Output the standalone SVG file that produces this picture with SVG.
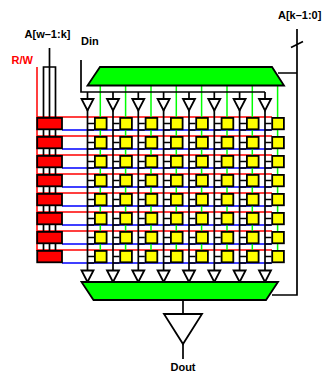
<svg xmlns="http://www.w3.org/2000/svg" xmlns:xlink="http://www.w3.org/1999/xlink" width="324" height="374" viewBox="0 0 324 374">
<style>
text{font-family:"Liberation Sans",Arial,sans-serif;font-weight:bold;font-size:11px;fill:#000}
.w{fill:none;stroke:#000;stroke-width:1.7}
.r{fill:none;stroke:#f00;stroke-width:1.5}
.b{fill:none;stroke:#00f;stroke-width:1.5}
.g{fill:none;stroke:#0f0;stroke-width:1.5}
.tri{fill:#fff;stroke:#000;stroke-width:1.8}
.mux{fill:#0f0;stroke:#000;stroke-width:1.8}
.red{fill:#f00;stroke:#000;stroke-width:1.8}
.cell{fill:#ff0;stroke:#000;stroke-width:1.8}
</style>
<defs>
<rect id="c" class="cell" x="0.9" y="0.9" width="11.7" height="11.4"/>
<rect id="d" class="red" x="37.2" y="0.9" width="24.8" height="11.4"/>
<polygon id="t" class="tri" points="-6,0 6,0 0,11.5"/>
<path id="s" class="w" d="M0 6.5H6.5M0 13H6.5"/>
</defs>
<g id="connectors">
<g id="word-lines">
<path class="r" d="M37 67V251M37 117H272M37 136H272M37 155H272M37 174H272M37 193H272M37 212H272M37 231H272M37 250H272"/>
<path class="b" d="M62 130H272M62 149H272M62 168H272M62 187H272M62 206H272M62 225H272M62 244H272M62 263H272"/>
</g>
<path id="green-lines" class="g" d="M100.3 85V251M125.6 85V251M151 85V251M176.3 85V251M201.6 85V251M227 85V251M252.3 85V251M277.6 85V251"/>
<path id="addr-high" class="w" d="M49.5 48V67M43.5 117V67H55.5V117M43.5 130V250M49.5 67V250M55.5 130V250"/>
<path id="din" class="w" d="M81 60V92H265M87.5 92V99M113 92V99M138.3 92V99M163.6 92V99M189 92V99M214.3 92V99M239.6 92V99M265 92V99"/>
<path id="bit-lines" class="w" d="M87.5 110V271M113 110V271M138.3 110V271M163.6 110V271M189 110V271M214.3 110V271M239.6 110V271M265 110V271"/>
<path id="addr-low" class="w" d="M297 29V295H272M278 73H297M291 47.5L303 41.5"/>
<path id="dout" class="w" d="M183 300V314M183 344V359"/>
</g>
<g id="stubs">
<use href="#s" x="87.5" y="117"/><use href="#s" x="113" y="117"/><use href="#s" x="138.3" y="117"/><use href="#s" x="163.6" y="117"/><use href="#s" x="189" y="117"/><use href="#s" x="214.3" y="117"/><use href="#s" x="239.6" y="117"/><use href="#s" x="265" y="117"/>
<use href="#s" x="87.5" y="136"/><use href="#s" x="113" y="136"/><use href="#s" x="138.3" y="136"/><use href="#s" x="163.6" y="136"/><use href="#s" x="189" y="136"/><use href="#s" x="214.3" y="136"/><use href="#s" x="239.6" y="136"/><use href="#s" x="265" y="136"/>
<use href="#s" x="87.5" y="155"/><use href="#s" x="113" y="155"/><use href="#s" x="138.3" y="155"/><use href="#s" x="163.6" y="155"/><use href="#s" x="189" y="155"/><use href="#s" x="214.3" y="155"/><use href="#s" x="239.6" y="155"/><use href="#s" x="265" y="155"/>
<use href="#s" x="87.5" y="174"/><use href="#s" x="113" y="174"/><use href="#s" x="138.3" y="174"/><use href="#s" x="163.6" y="174"/><use href="#s" x="189" y="174"/><use href="#s" x="214.3" y="174"/><use href="#s" x="239.6" y="174"/><use href="#s" x="265" y="174"/>
<use href="#s" x="87.5" y="193"/><use href="#s" x="113" y="193"/><use href="#s" x="138.3" y="193"/><use href="#s" x="163.6" y="193"/><use href="#s" x="189" y="193"/><use href="#s" x="214.3" y="193"/><use href="#s" x="239.6" y="193"/><use href="#s" x="265" y="193"/>
<use href="#s" x="87.5" y="212"/><use href="#s" x="113" y="212"/><use href="#s" x="138.3" y="212"/><use href="#s" x="163.6" y="212"/><use href="#s" x="189" y="212"/><use href="#s" x="214.3" y="212"/><use href="#s" x="239.6" y="212"/><use href="#s" x="265" y="212"/>
<use href="#s" x="87.5" y="231"/><use href="#s" x="113" y="231"/><use href="#s" x="138.3" y="231"/><use href="#s" x="163.6" y="231"/><use href="#s" x="189" y="231"/><use href="#s" x="214.3" y="231"/><use href="#s" x="239.6" y="231"/><use href="#s" x="265" y="231"/>
<use href="#s" x="87.5" y="250"/><use href="#s" x="113" y="250"/><use href="#s" x="138.3" y="250"/><use href="#s" x="163.6" y="250"/><use href="#s" x="189" y="250"/><use href="#s" x="214.3" y="250"/><use href="#s" x="239.6" y="250"/><use href="#s" x="265" y="250"/>
</g>
<g id="row-decoders">
<use href="#d" y="117"/><use href="#d" y="136"/><use href="#d" y="155"/><use href="#d" y="174"/><use href="#d" y="193"/><use href="#d" y="212"/><use href="#d" y="231"/><use href="#d" y="250"/>
</g>
<g id="memory-cells">
<use href="#c" x="94" y="117"/><use href="#c" x="119.3" y="117"/><use href="#c" x="144.7" y="117"/><use href="#c" x="170" y="117"/><use href="#c" x="195.3" y="117"/><use href="#c" x="220.7" y="117"/><use href="#c" x="246" y="117"/><use href="#c" x="271.3" y="117"/>
<use href="#c" x="94" y="136"/><use href="#c" x="119.3" y="136"/><use href="#c" x="144.7" y="136"/><use href="#c" x="170" y="136"/><use href="#c" x="195.3" y="136"/><use href="#c" x="220.7" y="136"/><use href="#c" x="246" y="136"/><use href="#c" x="271.3" y="136"/>
<use href="#c" x="94" y="155"/><use href="#c" x="119.3" y="155"/><use href="#c" x="144.7" y="155"/><use href="#c" x="170" y="155"/><use href="#c" x="195.3" y="155"/><use href="#c" x="220.7" y="155"/><use href="#c" x="246" y="155"/><use href="#c" x="271.3" y="155"/>
<use href="#c" x="94" y="174"/><use href="#c" x="119.3" y="174"/><use href="#c" x="144.7" y="174"/><use href="#c" x="170" y="174"/><use href="#c" x="195.3" y="174"/><use href="#c" x="220.7" y="174"/><use href="#c" x="246" y="174"/><use href="#c" x="271.3" y="174"/>
<use href="#c" x="94" y="193"/><use href="#c" x="119.3" y="193"/><use href="#c" x="144.7" y="193"/><use href="#c" x="170" y="193"/><use href="#c" x="195.3" y="193"/><use href="#c" x="220.7" y="193"/><use href="#c" x="246" y="193"/><use href="#c" x="271.3" y="193"/>
<use href="#c" x="94" y="212"/><use href="#c" x="119.3" y="212"/><use href="#c" x="144.7" y="212"/><use href="#c" x="170" y="212"/><use href="#c" x="195.3" y="212"/><use href="#c" x="220.7" y="212"/><use href="#c" x="246" y="212"/><use href="#c" x="271.3" y="212"/>
<use href="#c" x="94" y="231"/><use href="#c" x="119.3" y="231"/><use href="#c" x="144.7" y="231"/><use href="#c" x="170" y="231"/><use href="#c" x="195.3" y="231"/><use href="#c" x="220.7" y="231"/><use href="#c" x="246" y="231"/><use href="#c" x="271.3" y="231"/>
<use href="#c" x="94" y="250"/><use href="#c" x="119.3" y="250"/><use href="#c" x="144.7" y="250"/><use href="#c" x="170" y="250"/><use href="#c" x="195.3" y="250"/><use href="#c" x="220.7" y="250"/><use href="#c" x="246" y="250"/><use href="#c" x="271.3" y="250"/>
</g>
<g id="input-drivers">
<use href="#t" x="87.5" y="99"/><use href="#t" x="113" y="99"/><use href="#t" x="138.3" y="99"/><use href="#t" x="163.6" y="99"/><use href="#t" x="189" y="99"/><use href="#t" x="214.3" y="99"/><use href="#t" x="239.6" y="99"/><use href="#t" x="265" y="99"/>
</g>
<g id="sense-amps">
<use href="#t" x="87.5" y="270.5"/><use href="#t" x="113" y="270.5"/><use href="#t" x="138.3" y="270.5"/><use href="#t" x="163.6" y="270.5"/><use href="#t" x="189" y="270.5"/><use href="#t" x="214.3" y="270.5"/><use href="#t" x="239.6" y="270.5"/><use href="#t" x="265" y="270.5"/>
</g>
<g id="column-decoder"><polygon class="mux" points="100,67 272,67 284,85.5 87.5,85.5"/></g>
<g id="column-mux"><polygon class="mux" points="81.5,282 278,282 266,300 93.5,300"/></g>
<g id="output-buffer"><polygon class="tri" points="164,314 202,314 183,344"/></g>
<g id="labels">
<text x="47.5" y="38" text-anchor="middle">A[w–1:k]</text>
<text x="81" y="45">Din</text>
<text x="11.5" y="64" style="fill:#f00">R/W</text>
<text x="278" y="19">A[k–1:0]</text>
<text x="183" y="371" text-anchor="middle">Dout</text>
</g>
</svg>
